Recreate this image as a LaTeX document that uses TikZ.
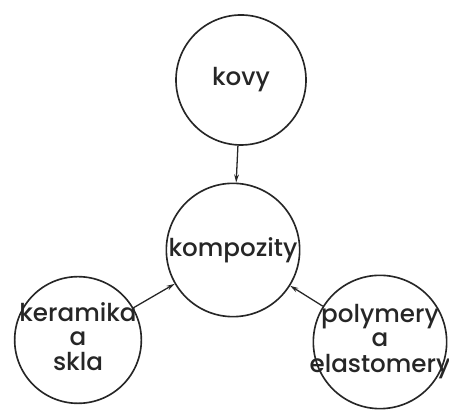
\documentclass[tikz,border=0pt]{standalone}
\usepackage{fontspec}
\setmainfont{Poppins}[BoldFont={Poppins Medium}]
\usetikzlibrary{arrows.meta}
\tikzset{
  material/.style={draw=black!85, line width=1.4pt, circle, inner sep=0pt,
    font=\fontsize{21}{20.5}\selectfont\bfseries, text=black!85},
  flow/.style={draw=black!85, line width=1.1pt, -{Stealth[length=7pt,width=4pt]}}
}
\newcommand{\stacklines}[1]{\makebox[0pt]{\begin{tabular}{@{}c@{}}#1\end{tabular}}}
\begin{document}
\begin{tikzpicture}[scale=0.3]
	\useasboundingbox (0,0) rectangle (44.9,41);
	% circles
	\node[material, minimum size=3.9cm] (kovy) at (24.1,33.0) {\makebox[0pt]{kovy}};
	\node[material, minimum size=4.0cm] (kompozity) at (23.3,16.0) {\makebox[0pt]{kompozity}};
	\node[material, minimum size=3.8cm] (keramika) at (7.8,7.0)
		{\stacklines{keramika\\a\\skla}};
	\node[material, minimum size=4.0cm] (polymery) at (38.0,6.8)
		{\stacklines{polymery\\a\\elastomery}};

	% arrows
	\draw[flow] (kovy) -- (kompozity);
	\draw[flow] (keramika) -- (kompozity);
	\draw[flow] (polymery) -- (kompozity);
\end{tikzpicture}
\end{document}
